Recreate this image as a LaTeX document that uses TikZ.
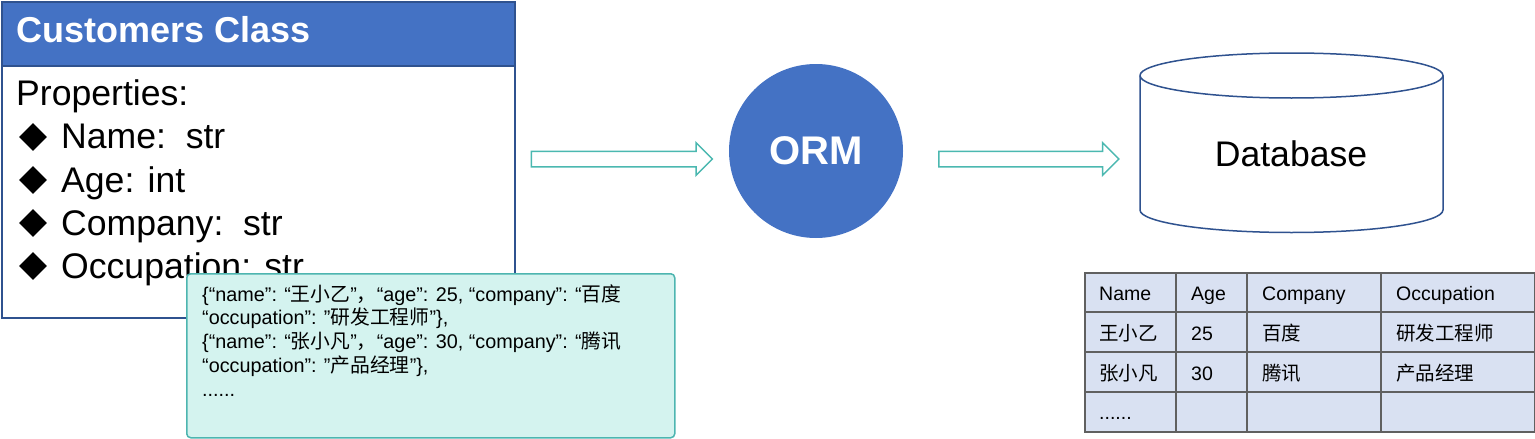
\documentclass[tikz,border=0pt]{standalone}
\usepackage{fontspec}
\setmainfont{Liberation Sans}
\newfontfamily\cjk{Noto Sans CJK SC}
\usetikzlibrary{shapes.geometric,shapes.arrows}
\definecolor{hdrblue}{HTML}{4472C4}
\definecolor{edgeblue}{HTML}{2F528F}
\definecolor{jsonfill}{HTML}{D4F3EF}
\definecolor{jsonedge}{HTML}{4DB5B0}
\definecolor{tblfill}{HTML}{D9E1F2}
\definecolor{tblline}{HTML}{606060}
\definecolor{arredge}{HTML}{4BB8B0}
\tikzset{
  bigtxt/.style={anchor=base west, inner sep=0, font=\fontsize{35.6}{42}\selectfont},
  bullet/.style={diamond, fill=black, minimum size=28pt, inner sep=0},
  jtxt/.style={anchor=base west, inner sep=0, font=\fontsize{19.8}{24}\selectfont},
  ttxt/.style={anchor=base west, inner sep=0, font=\fontsize{19.5}{23}\selectfont},
  blockarrow/.style={single arrow, draw=arredge, line width=1.5pt, fill=white,
    inner sep=7pt, minimum width=31pt, single arrow head extend=8.5pt,
    single arrow head indent=0pt},
}
\begin{document}
\begin{tikzpicture}[x=1pt,y=-1pt]
\useasboundingbox (0,0) rectangle (1535,439);
% class box
\node[draw=edgeblue, line width=1.5pt, fill=white, minimum width=513pt, minimum height=316pt, anchor=north west, inner sep=0] (cls) at (1,1) {};
\node[draw=edgeblue, line width=1.5pt, fill=hdrblue, minimum width=513pt, minimum height=64pt, anchor=north west, inner sep=0] (hdr) at (1,1) {};
\node[anchor=base west, inner sep=0, text=white, font=\bfseries\fontsize{36}{43}\selectfont] (title) at (16,42) {Customers Class};
\node[bigtxt] (p0) at (16,105) {Properties:};
\node[bullet] (b1) at (33,137) {};
\node[bigtxt] (p1) at (61,148) {Name:~~str};
\node[bullet] (b2) at (33,180) {};
\node[bigtxt] (p2) at (61,192) {Age: int};
\node[bullet] (b3) at (33,223) {};
\node[bigtxt] (p3) at (61,235) {Company:~~str};
\node[bullet] (b4) at (33,266) {};
\node[bigtxt] (p4) at (61,278) {Occupation: str};
% json box
\node[draw=jsonedge, fill=jsonfill, rounded corners=4pt, line width=1.5pt, minimum width=488pt, minimum height=164pt, anchor=north west, inner sep=0] (json) at (186,273) {};
\node[jtxt] (j1) at (202,301) {\{“name”: “{\cjk 王小乙}”{\cjk ，}“age”: 25, “company”: “{\cjk 百度}};
\node[jtxt] (j2) at (202,324) {“occupation”: ”{\cjk 研发工程师}”\},};
\node[jtxt] (j3) at (202,348) {\{“name”: “{\cjk 张小凡}”{\cjk ，}“age”: 30, “company”: “{\cjk 腾讯}};
\node[jtxt] (j4) at (202,372) {“occupation”: ”{\cjk 产品经理}”\},};
\node[jtxt] (j5) at (202,396) {......};
% ORM
\node[circle, fill=hdrblue, minimum size=174pt, inner sep=0, text=white, font=\bfseries\fontsize{40}{48}\selectfont] (orm) at (816,151) {ORM};
% arrows
\node[blockarrow, minimum height=181pt] (arr1) at (618,159) {};
\node[blockarrow, minimum height=180pt] (arr2) at (1025,159) {};
% database cylinder
\draw[edgeblue, line width=1.5pt, fill=white] (1140,75.5) -- (1140,210)
  arc[start angle=180, end angle=360, x radius=151.5pt, y radius=22.5pt]
  -- (1443,75.5)
  arc[start angle=0, end angle=180, x radius=151.5pt, y radius=22.5pt] -- cycle;
\draw[edgeblue, line width=1.5pt] (1140,75.5)
  arc[start angle=180, end angle=360, x radius=151.5pt, y radius=22.5pt];
\node[anchor=base, inner sep=0, font=\fontsize{35.6}{42}\selectfont] (db) at (1291,166) {Database};
% table
\node[fill=tblfill, draw=tblline, line width=2pt, minimum width=450pt, minimum height=159pt, anchor=north west, inner sep=0] (tbl) at (1084,272) {};
\draw[tblline, line width=2pt]
  (1084,312) -- (1534,312)
  (1084,352) -- (1534,352)
  (1084,392) -- (1534,392)
  (1176,272) -- (1176,431)
  (1247,272) -- (1247,431)
  (1381,272) -- (1381,431);
\node[ttxt] (t11) at (1099,300) {Name};
\node[ttxt] (t12) at (1191,300) {Age};
\node[ttxt] (t13) at (1262,300) {Company};
\node[ttxt] (t14) at (1396,300) {Occupation};
\node[ttxt] (t21) at (1099,340) {\cjk 王小乙};
\node[ttxt] (t22) at (1191,340) {25};
\node[ttxt] (t23) at (1262,340) {\cjk 百度};
\node[ttxt] (t24) at (1396,340) {\cjk 研发工程师};
\node[ttxt] (t31) at (1099,380) {\cjk 张小凡};
\node[ttxt] (t32) at (1191,380) {30};
\node[ttxt] (t33) at (1262,380) {\cjk 腾讯};
\node[ttxt] (t34) at (1396,380) {\cjk 产品经理};
\node[ttxt] (t41) at (1099,419) {......};
\end{tikzpicture}
\end{document}
